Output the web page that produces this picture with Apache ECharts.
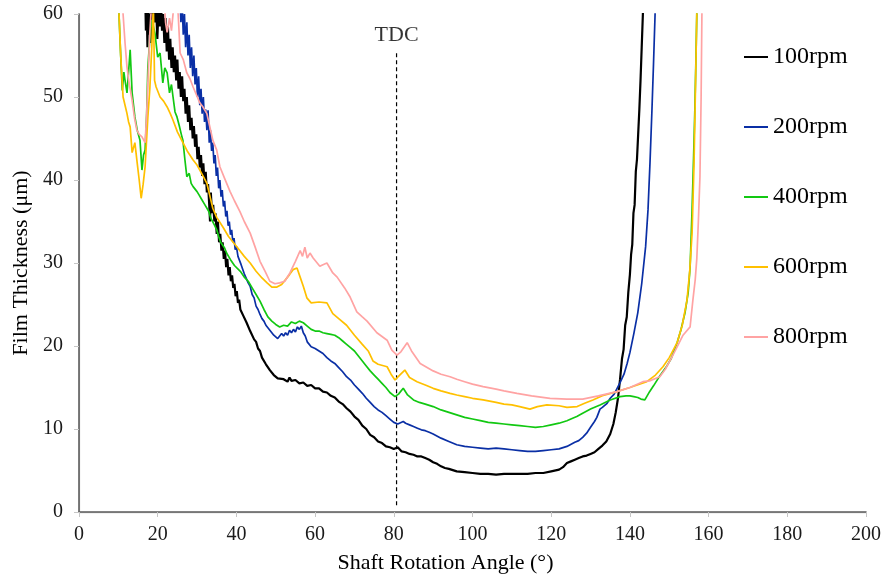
<!DOCTYPE html>
<html>
<head>
<meta charset="utf-8">
<script src="https://cdn.jsdelivr.net/npm/echarts@6/dist/echarts.min.js"></script>
<style>
  html, body { margin: 0; padding: 0; background: #ffffff; }
  #chart { width: 886px; height: 582px; }
</style>
</head>
<body>
<div id="chart"></div>
<script>
// Film thickness (µm) against shaft rotation angle (°) for five shaft speeds.
// Each series is a list of [angle, thickness] pairs.
const seriesNames = ['100rpm', '200rpm', '400rpm', '600rpm', '800rpm'];

const rpm100 = [
  [16.8, 63], [17.0, 58], [17.2, 61], [17.4, 56], [17.6, 62], [17.8, 57.5], [18.0, 60], [18.2, 56.5],
  [18.4, 61.5], [18.7, 58], [19.0, 62], [19.3, 59], [19.6, 61], [19.9, 57], [20.2, 60.5], [20.5, 58.5],
  [20.8, 62], [21.1, 58], [21.4, 60], [21.7, 56.5], [22.0, 59.5], [22.3, 55.5], [22.6, 58.5], [22.9, 54.5],
  [23.2, 57], [23.5, 53.5], [23.8, 56], [24.1, 53], [24.4, 55], [24.7, 52], [25.0, 54.5], [25.3, 51],
  [25.6, 53], [25.9, 50], [26.2, 52.5], [26.5, 49.5], [26.8, 51], [27.1, 48], [27.4, 50], [27.7, 47],
  [28.0, 49], [28.3, 46], [28.6, 47.5], [28.9, 45], [29.2, 46.5], [29.5, 44], [29.8, 45.5], [30.1, 42.5],
  [30.4, 44], [30.7, 41.5], [31.0, 43], [31.3, 40.5], [31.6, 42], [31.9, 39.5], [32.2, 41], [32.5, 38.5],
  [32.8, 39.5], [33.1, 37], [33.3, 35], [33.5, 38.5], [33.8, 36], [34.1, 37], [34.4, 35], [34.7, 36],
  [35.0, 33.5], [35.3, 35], [35.6, 32.5], [35.9, 33.5], [36.2, 31.5], [36.5, 32.5], [36.8, 30.5], [37.1, 31.5],
  [37.4, 29.5], [37.7, 30.5], [38.0, 28.5], [38.3, 29.5], [38.6, 27.8], [38.9, 28.5], [39.2, 27], [39.5, 27.5],
  [39.8, 26], [40.1, 26.6], [40.4, 25.2], [40.7, 25.6], [41.0, 24.4], [41.4, 24.6], [41.8, 23.6], [42.2, 23.8],
  [42.6, 22.8], [43, 22.7], [43.5, 21.8], [44, 21.6], [44.5, 20.8], [45, 20.5], [45.5, 19.7], [46, 19.4],
  [46.5, 18.6], [47, 18.4], [47.5, 17.8], [48, 17.6], [48.5, 17.1], [49, 17.0], [49.5, 16.5], [50, 16.6],
  [50.5, 16.1], [51, 16.3], [52, 16.0], [53, 15.7], [53.5, 16.2], [54, 15.8], [55, 15.9], [56, 15.5],
  [57, 15.6], [58, 15.2], [59, 15.3], [60, 14.9], [61, 14.9], [62, 14.5], [63, 14.4], [64, 14.0],
  [65, 13.8], [66, 13.3], [67, 13.0], [68, 12.5], [69, 12.1], [70, 11.5], [71, 11.1], [72, 10.4],
  [73, 10.0], [74, 9.3], [75, 9.0], [76, 8.5], [77, 8.3], [78, 7.9], [79, 7.8], [80, 7.6],
  [81, 7.8], [82, 7.3], [83, 7.2], [84, 7.0], [85, 6.9], [86, 6.7], [87, 6.7], [88, 6.5],
  [89, 6.3], [90, 6.0], [91, 5.8], [92, 5.5], [93, 5.3], [94, 5.2], [96, 4.9], [98, 4.8],
  [100, 4.7], [102, 4.6], [104, 4.6], [106, 4.5], [108, 4.6], [110, 4.6], [112, 4.6], [114, 4.6],
  [116, 4.7], [118, 4.7], [120, 4.9], [122, 5.1], [123, 5.4], [124, 5.9], [125, 6.1], [126, 6.3],
  [127, 6.5], [128, 6.7], [129, 6.8], [130, 7.0], [131, 7.2], [132, 7.6], [133, 8.0], [134, 8.5],
  [135, 9.4], [135.8, 10.6], [136.4, 12], [137, 13.8], [137.5, 16], [138, 18.5], [138.4, 19.6], [138.8, 22.5],
  [139.2, 23.5], [139.6, 26.5], [140, 28.6], [140.3, 31], [140.6, 32.2], [140.9, 36], [141.2, 37], [141.5, 41],
  [141.8, 42.5], [142.1, 45.5], [142.4, 48.5], [142.7, 52], [143, 56], [143.3, 60], [143.6, 63]
];

const rpm200 = [
  [25.6, 63], [25.9, 59], [26.2, 61.5], [26.5, 57.5], [26.8, 60], [27.1, 56], [27.4, 59], [27.7, 55],
  [28.0, 57.5], [28.3, 53.5], [28.6, 56], [28.9, 52.5], [29.2, 55], [29.5, 51.5], [29.8, 53.5], [30.1, 50],
  [30.4, 52.5], [30.7, 49], [31.0, 51], [31.3, 48], [31.6, 50], [31.9, 47], [32.2, 48.5], [32.5, 46],
  [32.8, 48.4], [33.1, 44.5], [33.4, 46], [33.7, 43.5], [34.0, 44.5], [34.3, 42], [34.6, 43], [34.9, 40.5],
  [35.2, 41.5], [35.5, 39], [35.8, 40], [36.1, 38], [36.4, 38.8], [36.7, 36.8], [37.0, 37.5], [37.3, 35.6],
  [37.6, 36.3], [37.9, 34.5], [38.2, 35], [38.5, 33.4], [38.8, 34], [39.1, 32.5], [39.4, 33], [39.7, 31.6],
  [40.0, 32], [40.4, 30.8], [40.8, 31], [41.2, 29.8], [41.6, 30], [42, 28.7], [42.5, 28.6], [43, 27.6],
  [43.5, 27.2], [44, 26.2], [44.5, 25.8], [45, 24.8], [45.5, 24.4], [46, 23.8], [46.5, 23.3], [47, 23.0],
  [47.5, 22.5], [48, 22.4], [48.5, 21.9], [49, 21.8], [49.5, 21.3], [50, 21.4], [50.5, 20.9], [51, 21.1],
  [51.5, 21.5], [52, 21.2], [52.5, 21.6], [53, 21.3], [53.5, 21.9], [54, 21.6], [54.5, 22.0], [55, 21.7],
  [55.5, 22.3], [56, 22.0], [56.5, 22.4], [57, 21.6], [57.5, 21.2], [58, 20.5], [59, 19.9], [60, 19.7],
  [61, 19.4], [62, 19.1], [63, 18.6], [64, 18.2], [65, 17.9], [66, 17.4], [67, 16.9], [68, 16.3],
  [69, 15.9], [70, 15.3], [71, 14.8], [72, 14.3], [73, 13.7], [74, 13.2], [75, 12.7], [76, 12.3],
  [77, 12.0], [78, 11.6], [79, 11.2], [80, 10.8], [81, 10.6], [82.4, 10.9], [83, 10.7], [84, 10.5],
  [85, 10.3], [86, 10.1], [87, 9.9], [88, 9.8], [89, 9.6], [90, 9.4], [92, 8.9], [94, 8.5],
  [96, 8.1], [98, 7.9], [100, 7.8], [102, 7.7], [104, 7.6], [106, 7.7], [108, 7.6], [110, 7.5],
  [112, 7.4], [114, 7.3], [116, 7.3], [118, 7.4], [120, 7.5], [122, 7.6], [124, 7.9], [126, 8.4],
  [127, 8.6], [128, 9.0], [129, 9.5], [130, 10.2], [131, 10.9], [131.6, 11.4], [132.4, 12.4], [133, 12.6],
  [134.2, 13.1], [135, 13.7], [136, 14.2], [137.5, 15.6], [138.5, 16.6], [139.3, 17.9], [140, 19.2], [141, 21.5],
  [142, 24], [143, 27.5], [144, 32], [144.6, 36.4], [145.1, 42], [145.6, 48.4], [146, 54], [146.4, 60],
  [146.6, 63]
];

const rpm400 = [
  [10.0, 62], [10.5, 56], [11.0, 50.8], [11.4, 53], [11.7, 52], [12.2, 50.5], [12.6, 53], [13.0, 55.7],
  [13.5, 50.5], [14.2, 47.6], [14.8, 46], [15.5, 44.8], [16.0, 41.2], [16.4, 43], [16.8, 43.6], [17.2, 48],
  [17.5, 53.6], [18.0, 57], [18.5, 59.3], [19.3, 57.7], [20.0, 54.8], [20.6, 55.3], [21.3, 51.7], [21.8, 53.5],
  [22.4, 52.9], [23.0, 50.5], [23.5, 51.5], [23.9, 50], [24.4, 48.2], [24.9, 47.6], [25.5, 46.5], [26.0, 45.5],
  [26.4, 44.8], [26.9, 42.5], [27.4, 40.4], [28.0, 40.8], [28.5, 39.6], [29.0, 39.2], [29.5, 39.4], [30.0, 38.6],
  [30.5, 38.2], [31.0, 37.8], [31.5, 37.7], [32.0, 37], [32.5, 36.8], [33.0, 36.2], [33.5, 35.4], [34.0, 35.5],
  [34.5, 34.5], [35.0, 34], [35.5, 33.2], [36.0, 32.5], [36.5, 32.3], [37.0, 31.8], [37.5, 31.2], [38.0, 31],
  [38.5, 30.4], [39.0, 30.2], [39.5, 29.7], [40.0, 29.6], [41, 29], [42, 28.3], [43, 27.8], [44, 27],
  [45, 26.2], [46, 25.4], [47, 24.4], [48, 23.5], [49, 23.0], [50, 22.6], [51, 22.3], [52, 22.5],
  [53, 22.4], [54, 22.9], [55, 22.7], [56, 23.0], [57, 22.8], [58, 22.4], [59, 22.0], [60, 21.8],
  [61, 21.8], [62, 21.6], [63, 21.5], [64, 21.4], [65, 21.3], [66, 21.0], [67, 20.6], [68, 20.2],
  [69, 19.8], [70, 19.4], [71, 18.8], [72, 18.2], [73, 17.6], [74, 17.0], [75, 16.5], [76, 16.0],
  [77, 15.5], [78, 15.0], [79, 14.4], [80.3, 13.9], [81.2, 14.2], [82.4, 14.9], [83.5, 14.1], [85, 13.5],
  [86.5, 13.2], [88, 13.0], [90, 12.7], [92, 12.3], [94, 12.0], [96, 11.7], [98, 11.4], [100, 11.2],
  [102, 11.0], [104, 10.8], [106, 10.7], [108, 10.6], [110, 10.5], [112, 10.4], [114, 10.3], [116, 10.2],
  [118, 10.3], [120, 10.5], [122, 10.7], [124, 11.0], [125, 11.2], [126.5, 11.5], [128, 11.9], [130, 12.4],
  [132.4, 12.9], [135, 13.5], [137.5, 13.9], [139, 14.0], [140, 14.0], [141, 13.9], [142, 13.8], [142.8, 13.6],
  [143.8, 13.5], [145, 14.5], [146, 15.2], [147.6, 16.4], [149.4, 17.6], [150.5, 18.5], [152, 20.4], [153, 22],
  [154, 24], [154.8, 26.4], [155.3, 29.5], [155.8, 36.4], [156.2, 43], [156.5, 48.4], [156.8, 55], [157, 60],
  [157.1, 63]
];

const rpm600 = [
  [10.0, 62], [10.6, 55], [11.2, 50], [11.7, 49], [12.2, 48], [12.6, 47], [13.0, 46.4], [13.5, 43.3],
  [14.2, 44.5], [14.8, 42], [15.3, 40], [15.8, 37.8], [16.3, 39.5], [16.8, 41.6], [17.5, 47.6], [18.0, 51],
  [18.5, 56], [18.9, 61], [19.2, 52], [19.6, 51.2], [20.6, 50], [21.5, 49.5], [22.4, 48.8], [23.2, 48],
  [23.9, 47.2], [25.0, 45.8], [26.4, 44.5], [27.5, 43.5], [29.0, 42.4], [30.0, 41.8], [30.7, 41.2], [31.5, 40.5],
  [32.5, 39.6], [33.3, 38], [34.0, 36.6], [35, 35.5], [36.6, 34.3], [38, 33.2], [40.2, 31.9], [42, 30.8],
  [43.5, 30], [45, 29], [46.5, 28.2], [47.8, 27.6], [49, 27.1], [50.3, 27.1], [51.5, 27.4], [52.5, 28],
  [53.5, 28.6], [54.4, 29.2], [55.4, 29.4], [56.2, 28.3], [57, 27.2], [57.9, 25.8], [59, 25.2], [61, 25.3],
  [63, 25.2], [64.5, 23.9], [66, 23.3], [68, 22.5], [70, 21.3], [72, 20.2], [73.5, 19.4], [74.7, 18.2],
  [76, 17.8], [78.3, 17.5], [79.3, 16.6], [80.3, 15.9], [81.5, 16.5], [82.8, 17.1], [84, 16.2], [85.9, 15.7],
  [88, 15.3], [90, 14.9], [92, 14.6], [94.3, 14.3], [96, 14.1], [98, 13.9], [100, 13.7], [102.7, 13.5],
  [106, 13.2], [108, 13.0], [110, 12.9], [112, 12.7], [114.6, 12.4], [116.5, 12.7], [118.9, 12.9], [122, 12.8],
  [124, 12.6], [126.6, 12.7], [128.5, 13.1], [130.6, 13.5], [133, 14.0], [136.7, 14.5], [140, 15.0], [144.3, 15.7],
  [146.5, 16.5], [148.4, 17.5], [150, 18.6], [152, 20.4], [153.3, 22.5], [154.5, 25.5], [155.2, 29], [155.8, 33.6],
  [156.3, 42], [156.7, 52], [157.0, 60], [157.1, 63]
];

const rpm800 = [
  [11.0, 63], [11.2, 60], [11.7, 56.5], [12.2, 53.6], [12.8, 51.5], [13.5, 49.6], [14.1, 47.5], [14.7, 46],
  [15.3, 45.5], [16.0, 45.2], [16.8, 44.5], [17.2, 48], [17.5, 51.7], [18, 57.7], [18.4, 61], [18.6, 63],
  [21.5, 63], [22.0, 59], [22.4, 57.8], [23, 59.5], [23.5, 58], [24, 60.5], [24.5, 62], [25.2, 60],
  [25.7, 55.3], [26.5, 54.5], [27.4, 52.9], [28.2, 52.2], [29, 51.2], [29.8, 50.3], [30.7, 49.3], [31.5, 48.8],
  [32.5, 48], [33.3, 46.3], [34, 44.8], [35, 43.6], [35.8, 41.6], [37, 40.2], [38.4, 38.6], [39.5, 37.5],
  [40.9, 36.2], [42, 35], [43.5, 33.6], [44.7, 32], [46, 30.2], [47.3, 29], [48.5, 27.8], [49.8, 27.5],
  [51, 27.6], [52.3, 27.8], [53.6, 28.8], [55, 30.2], [56.2, 31.5], [56.8, 30.8], [57.4, 31.9], [58, 30.6],
  [58.7, 31.2], [59.5, 30.6], [61.2, 29.6], [62, 29.8], [63, 30], [64.5, 28.8], [65.6, 28.3], [67.5, 27],
  [68.9, 25.9], [70.6, 24.1], [72, 23.5], [73.2, 23.0], [75.7, 21.6], [78.3, 20.7], [79.5, 19.5], [80.8, 18.9],
  [81.8, 19.3], [83.4, 20.4], [84.5, 19.4], [86.7, 17.9], [90, 17.0], [92, 16.6], [94.3, 16.3], [96, 16.0],
  [98, 15.7], [100, 15.4], [102.7, 15.1], [106, 14.8], [108, 14.6], [111.3, 14.3], [115, 14.0], [119.7, 13.7],
  [124, 13.6], [128, 13.6], [132, 14.0], [136.7, 14.5], [140, 15.0], [143.3, 15.7], [145, 15.8], [147.6, 16.3],
  [149, 17.2], [150.5, 18.5], [152, 19.9], [153.5, 21.3], [155.3, 22.3], [156, 25.5], [156.6, 28], [157, 30.5],
  [157.4, 35], [157.8, 40.4], [158.1, 50], [158.3, 60], [158.4, 63]
];

// Top dead centre marker: angle and vertical extent of the dashed line
const tdcAngle = 80.7;
const tdcSpan = [0.8, 55.4];
const tdcText = 'TDC';

const xTicks = { min: 0, max: 200, interval: 20 };
const yTicks = { min: 0, max: 60, interval: 10 };

const seriesData = [rpm100, rpm200, rpm400, rpm600, rpm800];
const seriesColors = ['#000000', '#0a2fa5', '#12c812', '#ffc000', '#ffa3a3'];
const seriesWidths = [2.2, 1.7, 1.7, 1.7, 1.7];

const serif = '"Liberation Serif", "DejaVu Serif", serif';

const chart = echarts.init(document.getElementById('chart'), null, { renderer: 'canvas' });

const allSeries = seriesNames.map((name, i) => ({
  name: name,
  type: 'line',
  data: seriesData[i],
  showSymbol: false,
  symbol: 'none',
  smooth: false,
  clip: true,
  lineStyle: { color: seriesColors[i], width: seriesWidths[i] },
  itemStyle: { color: seriesColors[i] },
  z: 2 + i
}));

// dashed vertical line at top dead centre
allSeries.push({
  name: 'tdcLine',
  type: 'line',
  data: [[tdcAngle, tdcSpan[0]], [tdcAngle, tdcSpan[1]]],
  showSymbol: false,
  symbol: 'none',
  lineStyle: { color: '#000', width: 1.2, type: [4, 3] },
  z: 1
});

// its caption, placed above the upper end of the line
allSeries.push({
  name: 'tdcLabel',
  type: 'scatter',
  data: [[tdcAngle, tdcSpan[1]]],
  symbolSize: 1,
  itemStyle: { color: 'rgba(0,0,0,0)' },
  label: {
    show: true,
    position: 'top',
    distance: 5,
    formatter: tdcText,
    fontFamily: serif,
    fontSize: 22,
    color: '#000'
  },
  silent: true,
  z: 1
});

const axisLabelStyle = { fontFamily: serif, fontSize: 20, color: '#1a1a1a' };
const lightAxis = { show: true, lineStyle: { color: '#c6c6c6', width: 1.3 } };
const darkAxis = { show: true, lineStyle: { color: '#5e5e5e', width: 1.6 } };

chart.setOption({
  animation: false,
  backgroundColor: '#ffffff',
  grid: { left: 79, right: 20, top: 14, bottom: 70, containLabel: false, outerBoundsMode: 'none' },
  legend: {
    data: seriesNames,
    orient: 'vertical',
    left: 744,
    top: 45,
    padding: 0,
    itemWidth: 24,
    itemHeight: 2,
    itemGap: 46,
    icon: 'rect',
    textStyle: { fontFamily: serif, fontSize: 24, color: '#000', lineHeight: 24 }
  },
  xAxis: [
    {
      type: 'value',
      min: xTicks.min, max: xTicks.max, interval: xTicks.interval,
      name: 'Shaft Rotation Angle (°)',
      nameLocation: 'middle',
      nameGap: 40,
      nameTextStyle: { fontFamily: serif, fontSize: 22, color: '#000', verticalAlign: 'top', padding: [0, 54, 0, 0] },
      axisLine: lightAxis,
      axisTick: { show: true, inside: false, length: 5, lineStyle: { color: '#c6c6c6' } },
      axisLabel: Object.assign({ margin: 13 }, axisLabelStyle),
      splitLine: { show: false }
    },
    {
      type: 'value', position: 'top',
      min: xTicks.min, max: xTicks.max,
      axisLine: darkAxis, axisTick: { show: false }, axisLabel: { show: false }, splitLine: { show: false }
    }
  ],
  yAxis: [
    {
      type: 'value',
      min: yTicks.min, max: yTicks.max, interval: yTicks.interval,
      name: 'Film Thickness (μm)',
      nameLocation: 'middle',
      nameGap: 44,
      nameRotate: 90,
      nameTextStyle: { fontFamily: serif, fontSize: 22, color: '#000' },
      axisLine: lightAxis,
      axisTick: { show: true, inside: false, length: 5, lineStyle: { color: '#c6c6c6' } },
      axisLabel: Object.assign({ margin: 16 }, axisLabelStyle),
      splitLine: { show: false }
    },
    {
      type: 'value', position: 'right',
      min: yTicks.min, max: yTicks.max,
      axisLine: darkAxis, axisTick: { show: false }, axisLabel: { show: false }, splitLine: { show: false }
    }
  ],
  series: allSeries
});
</script>
</body>
</html>
